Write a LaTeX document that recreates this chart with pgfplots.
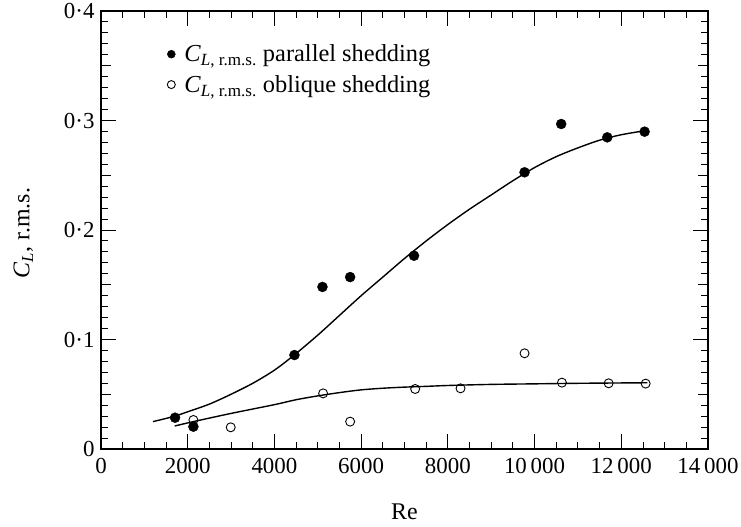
\documentclass[border=0pt]{standalone}
\usepackage{pgfplots}
\pgfplotsset{compat=1.18}
\usepackage{fontspec}
\setmainfont{Liberation Serif}
\begin{document}
\begin{tikzpicture}
\useasboundingbox (-101bp,-78bp) rectangle (640bp,449bp);
\begin{axis}[
  at={(0,0)}, anchor=south west,
  scale only axis, width=607bp, height=438bp,
  xmin=0, xmax=14000, ymin=0, ymax=0.4,
  xtick={0,2000,4000,6000,8000,10000,12000,14000},
  xticklabels={0,2000,4000,6000,8000,10\,000,12\,000,14\,000},
  ytick={0,0.1,0.2,0.3,0.4},
  yticklabels={0,0·1,0·2,0·3,0·4},
  scaled x ticks=false, scaled y ticks=false,
  minor x tick num=3,
  minor y tick num=9,
  extra y ticks={0.05,0.15,0.25,0.35},
  extra y tick labels={},
  extra y tick style={major tick length=10bp},
  tick align=inside,
  major tick length=15bp,
  minor tick length=7bp,
  tick style={line width=0.9bp, black},
  axis line style={line width=1.3bp},
  ticklabel style={font=\fontsize{23}{27}\selectfont},
  xticklabel style={yshift=-6bp},
  yticklabel style={xshift=-3bp},
  xlabel={Re},
  ylabel={\textit{C}\textsubscript{\textit{L}}, r.m.s.},
  label style={font=\fontsize{24}{28}\selectfont},
  xlabel style={at={(axis description cs:0.5,-0.144)}, anchor=center},
  ylabel style={at={(axis description cs:-0.128,0.493)}, anchor=center},
  legend style={at={(axis description cs:0.104,0.932)}, anchor=north west,
    draw=none, fill=none, font=\fontsize{24.5}{28}\selectfont, row sep=8bp},
  legend cell align=left,
  legend image code/.code={\draw[#1, mark size=4bp] plot coordinates {(0bp,0bp)};},
]
\addplot[only marks, mark=*, mark size=5bp, black] coordinates {
(1708,0.0286) (2131,0.0204) (4462,0.0858) (5108,0.148) (5746,0.157)
(7220,0.1765) (9769,0.2527) (10615,0.2968) (11677,0.2846) (12538,0.2898)
};
\addlegendentry{\hspace{7bp}\textit{C}\textsubscript{\textit{L}, r.m.s.} parallel shedding}
\addplot[only marks, mark=o, mark size=4.5bp, black, mark options={line width=0.9bp}] coordinates {
(2131,0.0265) (2992,0.0198) (5123,0.0508) (5746,0.025) (7246,0.0548)
(8292,0.0554) (9769,0.0874) (10631,0.0606) (11708,0.0600) (12562,0.0597)
};
\addlegendentry{\hspace{7bp}\textit{C}\textsubscript{\textit{L}, r.m.s.} oblique shedding}
\addplot[forget plot, black, line width=1.4bp, smooth] coordinates {
(1200,0.025) (1700,0.030) (2000,0.034) (2500,0.041) (3000,0.050) (3500,0.060)
(4000,0.072) (4462,0.086) (5000,0.104) (5500,0.122) (6000,0.140) (6500,0.157)
(7000,0.174) (7500,0.190) (8000,0.205) (8500,0.219) (9000,0.232) (9500,0.245)
(10000,0.257) (10500,0.267) (11000,0.275) (11500,0.282) (12000,0.287) (12600,0.291)
};
\addplot[forget plot, black, line width=1.4bp, smooth] coordinates {
(1700,0.021) (2131,0.025) (3000,0.0325) (4000,0.0405) (4500,0.045) (5000,0.0485)
(5500,0.0515) (6000,0.054) (6500,0.0555) (7000,0.0565) (7500,0.0572) (8000,0.058)
(9000,0.059) (10000,0.0595) (11000,0.060) (12600,0.0605)
};
\end{axis}
\end{tikzpicture}
\end{document}
